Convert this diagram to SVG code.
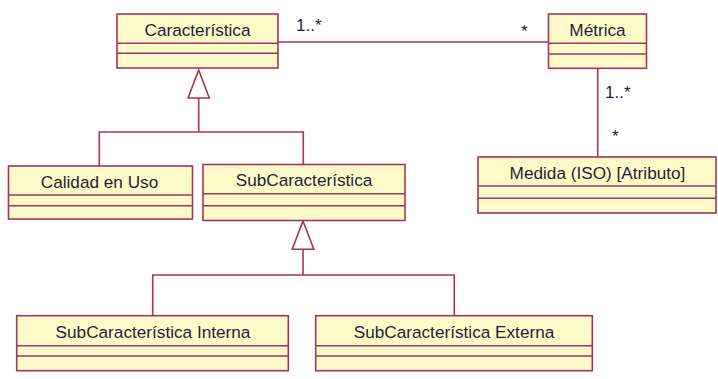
<svg xmlns="http://www.w3.org/2000/svg" width="718" height="379" viewBox="0 0 718 379">
  <style>
    .box { fill: #FFFBC8; stroke: #A8325E; stroke-width: 1.6; }
    .sep { stroke: #A8325E; stroke-width: 1.6; fill: none; }
    .edge { stroke: #A8325E; stroke-width: 1.6; fill: none; }
    .gen { fill: #FFFFFF; stroke: #A8325E; stroke-width: 1.6; stroke-linejoin: miter; }
    .name { font-family: "Liberation Sans", Arial, sans-serif; font-size: 17.2px; fill: #1E1E3C; text-anchor: middle; }
    .mult { font-family: "Liberation Sans", Arial, sans-serif; font-size: 17px; fill: #1E1E3C; }
  </style>
  <rect width="718" height="379" fill="#FFFFFF"/>

  <!-- connectors -->
  <g id="connectors">
    <!-- Característica — Métrica association -->
    <line class="edge" x1="278" y1="42" x2="548.5" y2="42"/>
    <text class="mult" x="296" y="31">1..*</text>
    <text class="mult" x="521" y="37">*</text>
    <!-- Métrica — Medida association -->
    <line class="edge" x1="597.7" y1="68.5" x2="597.7" y2="157"/>
    <text class="mult" x="605" y="97.5">1..*</text>
    <text class="mult" x="612" y="142">*</text>
    <!-- generalization to Característica -->
    <polyline class="edge" points="99.3,166 99.3,132 303.3,132 303.3,164.5"/>
    <line class="edge" x1="198.7" y1="132" x2="198.7" y2="98"/>
    <polygon class="gen" points="198.7,70 209.3,98 188.1,98"/>
    <!-- generalization to SubCaracterística -->
    <polyline class="edge" points="152.7,315.7 152.7,275 454.3,275 454.3,315.7"/>
    <line class="edge" x1="303" y1="275" x2="303" y2="249.3"/>
    <polygon class="gen" points="303,221 313.8,249.3 292.2,249.3"/>
  </g>

  <g id="caracteristica">
    <rect class="box" x="117" y="14" width="161" height="54"/>
    <line class="sep" x1="117" y1="43.3" x2="278" y2="43.3"/>
    <line class="sep" x1="117" y1="53.3" x2="278" y2="53.3"/>
    <text class="name" x="197.5" y="35.5">Característica</text>
  </g>

  <g id="metrica">
    <rect class="box" x="548.5" y="14" width="98" height="54.3"/>
    <line class="sep" x1="548.5" y1="43.3" x2="646.5" y2="43.3"/>
    <line class="sep" x1="548.5" y1="54" x2="646.5" y2="54"/>
    <text class="name" x="597.5" y="35.5">Métrica</text>
  </g>

  <g id="medida">
    <rect class="box" x="478" y="157" width="238" height="56"/>
    <line class="sep" x1="478" y1="186" x2="716" y2="186"/>
    <line class="sep" x1="478" y1="198.3" x2="716" y2="198.3"/>
    <text class="name" x="597.5" y="178.5">Medida (ISO) [Atributo]</text>
  </g>

  <g id="calidad-en-uso">
    <rect class="box" x="8.5" y="166" width="184" height="53"/>
    <line class="sep" x1="8.5" y1="195" x2="192.5" y2="195"/>
    <line class="sep" x1="8.5" y1="205.7" x2="192.5" y2="205.7"/>
    <text class="name" x="99.5" y="187.5">Calidad en Uso</text>
  </g>

  <g id="subcaracteristica">
    <rect class="box" x="203" y="164.5" width="202" height="56"/>
    <line class="sep" x1="203" y1="193.7" x2="405" y2="193.7"/>
    <line class="sep" x1="203" y1="205.7" x2="405" y2="205.7"/>
    <text class="name" x="304" y="186">SubCaracterística</text>
  </g>

  <g id="subcaracteristica-interna">
    <rect class="box" x="16.7" y="315.7" width="271.6" height="55"/>
    <line class="sep" x1="16.7" y1="345.7" x2="288.3" y2="345.7"/>
    <line class="sep" x1="16.7" y1="356" x2="288.3" y2="356"/>
    <text class="name" x="153" y="337.5">SubCaracterística Interna</text>
  </g>

  <g id="subcaracteristica-externa">
    <rect class="box" x="315.7" y="315.7" width="276.6" height="55"/>
    <line class="sep" x1="315.7" y1="345.7" x2="592.3" y2="345.7"/>
    <line class="sep" x1="315.7" y1="356" x2="592.3" y2="356"/>
    <text class="name" x="454" y="337.5">SubCaracterística Externa</text>
  </g>
</svg>
